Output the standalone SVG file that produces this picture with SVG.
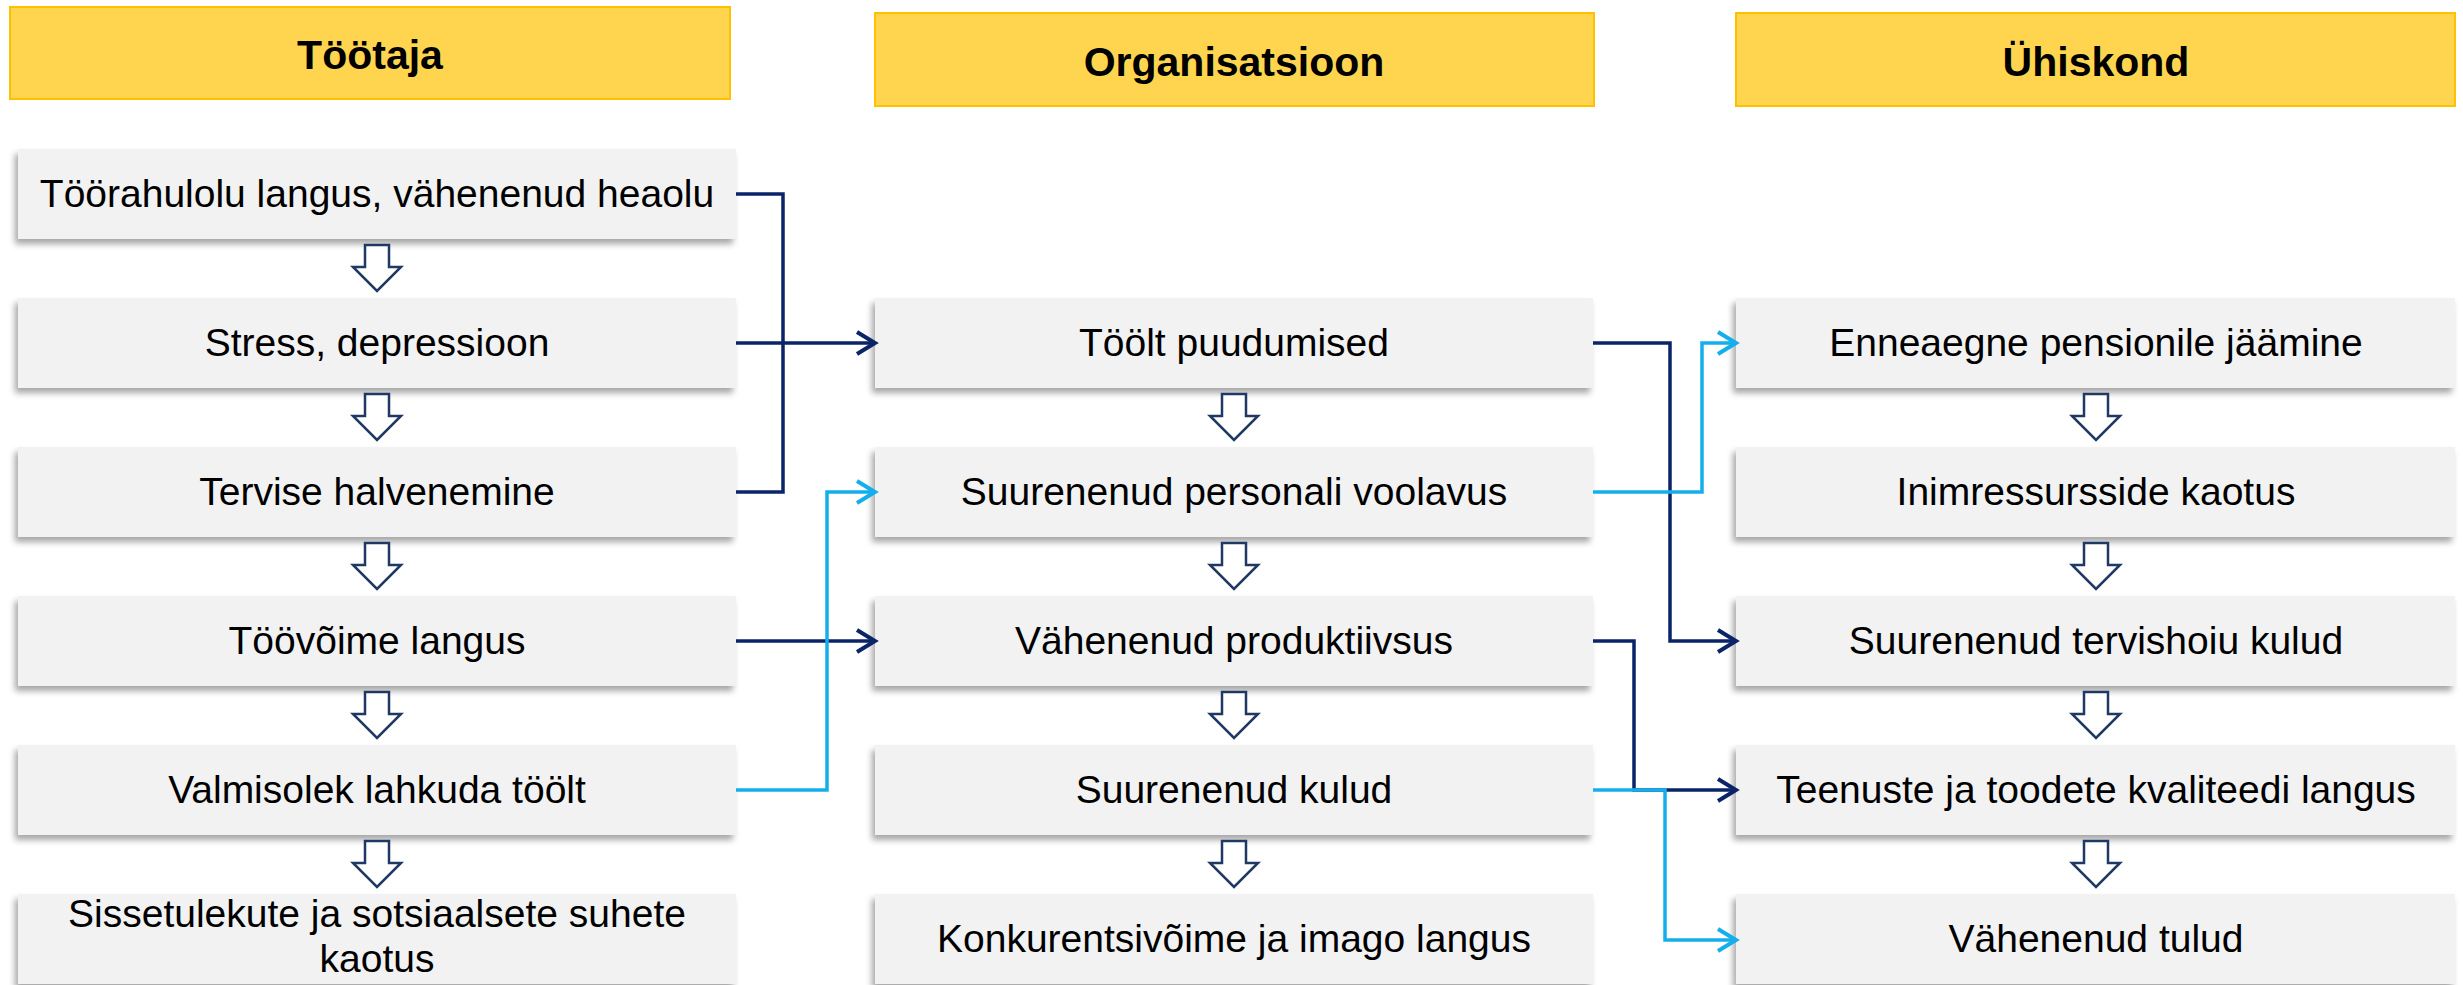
<svg xmlns="http://www.w3.org/2000/svg" xmlns:xlink="http://www.w3.org/1999/xlink" width="2463" height="985" viewBox="0 0 2463 985">
<style>
.box{fill:#F2F2F2;filter:url(#sh)}
.hdr{fill:#FFD54F;stroke:#FFC000;stroke-width:2}
.t{font-family:'Liberation Sans',Arial,sans-serif;font-size:39px;text-anchor:middle;fill:#000}
.h{font-weight:bold;font-size:41px}
.blk{fill:#fff;stroke:#1F3864;stroke-width:2.5;stroke-linejoin:miter}
.cn{fill:none;stroke:#0A2468;stroke-width:3.5}
.cl{fill:none;stroke:#14AEEC;stroke-width:3.5}
</style>
<defs>
<filter id="sh" x="-5%" y="-20%" width="110%" height="150%">
<feDropShadow dx="-3" dy="5" stdDeviation="3" flood-color="#000" flood-opacity="0.35"/>
</filter>
<path id="da" class="blk" d="M-12,0 H12 V22 H24 L0,46 L-24,22 H-12 Z"/>
<marker id="mn" markerUnits="userSpaceOnUse" markerWidth="26" markerHeight="28" refX="21" refY="13" orient="auto">
<path d="M3,2 L21,13 L3,24" fill="none" stroke="#0A2468" stroke-width="4"/>
</marker>
<marker id="ml" markerUnits="userSpaceOnUse" markerWidth="26" markerHeight="28" refX="21" refY="13" orient="auto">
<path d="M3,2 L21,13 L3,24" fill="none" stroke="#14AEEC" stroke-width="4"/>
</marker>
</defs>
<rect width="2463" height="985" fill="#fff"/>

<!-- Headers -->
<g id="h-tootaja"><rect class="hdr" x="10" y="7" width="720" height="92"/><text class="t h" x="370" y="69">Töötaja</text></g>
<g id="h-organisatsioon"><rect class="hdr" x="875" y="13" width="719" height="93"/><text class="t h" x="1234" y="76">Organisatsioon</text></g>
<g id="h-uhiskond"><rect class="hdr" x="1736" y="13" width="719" height="93"/><text class="t h" x="2096" y="76">Ühiskond</text></g>

<!-- Column 1 -->
<g id="n-toorahulolu"><rect class="box" x="18" y="149" width="718" height="90"/><text class="t" x="377" y="207">Töörahulolu langus, vähenenud heaolu</text></g>
<g id="n-stress"><rect class="box" x="18" y="298" width="718" height="90"/><text class="t" x="377" y="356">Stress, depressioon</text></g>
<g id="n-tervise"><rect class="box" x="18" y="447" width="718" height="90"/><text class="t" x="377" y="505">Tervise halvenemine</text></g>
<g id="n-toovoime"><rect class="box" x="18" y="596" width="718" height="90"/><text class="t" x="377" y="654">Töövõime langus</text></g>
<g id="n-valmisolek"><rect class="box" x="18" y="745" width="718" height="90"/><text class="t" x="377" y="803">Valmisolek lahkuda töölt</text></g>
<g id="n-sissetulekute"><rect class="box" x="18" y="894" width="718" height="90"/><text class="t" x="377" y="927">Sissetulekute ja sotsiaalsete suhete</text><text class="t" x="377" y="972">kaotus</text></g>

<!-- Column 2 -->
<g id="n-toolt"><rect class="box" x="875" y="298" width="718" height="90"/><text class="t" x="1234" y="356">Töölt puudumised</text></g>
<g id="n-personali"><rect class="box" x="875" y="447" width="718" height="90"/><text class="t" x="1234" y="505">Suurenenud personali voolavus</text></g>
<g id="n-produktiivsus"><rect class="box" x="875" y="596" width="718" height="90"/><text class="t" x="1234" y="654">Vähenenud produktiivsus</text></g>
<g id="n-kulud"><rect class="box" x="875" y="745" width="718" height="90"/><text class="t" x="1234" y="803">Suurenenud kulud</text></g>
<g id="n-konkurents"><rect class="box" x="875" y="894" width="718" height="90"/><text class="t" x="1234" y="952">Konkurentsivõime ja imago langus</text></g>

<!-- Column 3 -->
<g id="n-enneaegne"><rect class="box" x="1736" y="298" width="719" height="90"/><text class="t" x="2096" y="356">Enneaegne pensionile jäämine</text></g>
<g id="n-inimressurss"><rect class="box" x="1736" y="447" width="719" height="90"/><text class="t" x="2096" y="505">Inimressursside kaotus</text></g>
<g id="n-tervishoiu"><rect class="box" x="1736" y="596" width="719" height="90"/><text class="t" x="2096" y="654">Suurenenud tervishoiu kulud</text></g>
<g id="n-teenuste"><rect class="box" x="1736" y="745" width="719" height="90"/><text class="t" x="2096" y="803">Teenuste ja toodete kvaliteedi langus</text></g>
<g id="n-tulud"><rect class="box" x="1736" y="894" width="719" height="90"/><text class="t" x="2096" y="952">Vähenenud tulud</text></g>

<!-- Connectors -->
<g id="connectors">
<use xlink:href="#da" href="#da" x="377" y="245"/>
<use xlink:href="#da" href="#da" x="377" y="394"/>
<use xlink:href="#da" href="#da" x="377" y="543"/>
<use xlink:href="#da" href="#da" x="377" y="692"/>
<use xlink:href="#da" href="#da" x="377" y="841"/>
<use xlink:href="#da" href="#da" x="1234" y="394"/>
<use xlink:href="#da" href="#da" x="1234" y="543"/>
<use xlink:href="#da" href="#da" x="1234" y="692"/>
<use xlink:href="#da" href="#da" x="1234" y="841"/>
<use xlink:href="#da" href="#da" x="2096" y="394"/>
<use xlink:href="#da" href="#da" x="2096" y="543"/>
<use xlink:href="#da" href="#da" x="2096" y="692"/>
<use xlink:href="#da" href="#da" x="2096" y="841"/>

<path class="cn" d="M736,194 H783 V343"/>
<path class="cn" d="M736,492 H783 V343"/>
<path class="cn" d="M736,343 H875" marker-end="url(#mn)"/>
<path class="cn" d="M736,641 H875" marker-end="url(#mn)"/>
<path class="cl" d="M736,790 H827 V492 H875" marker-end="url(#ml)"/>
<path class="cn" d="M1593,343 H1670 V641 H1736" marker-end="url(#mn)"/>
<path class="cl" d="M1593,492 H1702 V343 H1736" marker-end="url(#ml)"/>
<path class="cn" d="M1593,641 H1634 V790 H1736" marker-end="url(#mn)"/>
<path class="cl" d="M1593,790 H1665 V940 H1736" marker-end="url(#ml)"/>
</g>
</svg>
